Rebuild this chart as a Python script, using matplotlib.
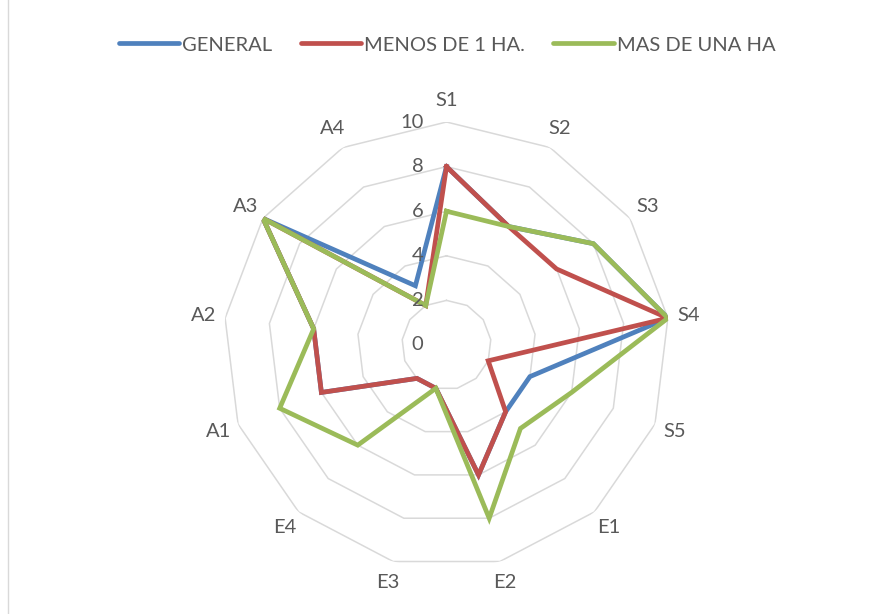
import numpy as np
import matplotlib
matplotlib.use("Agg")
import matplotlib.pyplot as plt
from matplotlib.lines import Line2D
from matplotlib.transforms import offset_copy

categories = ["S1", "S2", "S3", "S4", "S5", "E1", "E2", "E3", "E4", "A1", "A2", "A3", "A4"]
general = [8, 6, 8, 10, 4, 4, 6, 2, 2, 6, 6, 10, 3]
menos_1ha = [8, 6, 6, 10, 2, 4, 6, 2, 2, 6, 6, 10, 2]
mas_1ha = [6, 6, 8, 10, 6, 5, 8, 2, 6, 8, 6, 10, 2]
series_names = ["GENERAL", "MENOS DE 1 HA.", "MAS DE UNA HA"]
rings = [2, 4, 6, 8, 10]
tick_labels = ["0", "2", "4", "6", "8", "10"]
tick_values = [0, 2, 4, 6, 8, 10]

colors = ["#4F81BD", "#C0504D", "#9BBB59"]
text_color = "#595959"
grid_color = "#D9D9D9"

plt.rcParams['font.family'] = ['Lato', 'DejaVu Sans']
FS = 14.5

W, H = 875, 614
fig = plt.figure(figsize=(W / 100, H / 100), dpi=100)

cx, cy, R = 446.5, 345.0, 223.0
ax = fig.add_axes([(cx - R) / W, (H - cy - R) / H, 2 * R / W, 2 * R / H], projection='polar')
ax.set_theta_offset(np.pi / 2)
ax.set_theta_direction(-1)
ax.set_ylim(0, 10)
ax.grid(False)
ax.set_xticks([])
ax.set_yticks([])
ax.spines['polar'].set_visible(False)
ax.patch.set_alpha(0)

n = len(categories)
angles = np.linspace(0, 2 * np.pi, n, endpoint=False)
closed = np.concatenate([angles, angles[:1]])

for r in rings:
    ax.plot(closed, [r] * (n + 1), color=grid_color, lw=1.1, zorder=1)

for vals, col in zip([general, menos_1ha, mas_1ha], colors):
    v = list(vals) + [vals[0]]
    ax.plot(closed, v, color=col, lw=3.4, zorder=3, solid_joinstyle='miter')

for a, lab in zip(angles, categories):
    ax.text(a, 10.95, lab, ha='center', va='center', fontsize=FS, color=text_color)

tr = offset_copy(ax.transData, fig=fig, x=-23, y=0, units='dots')
for tv, tl in zip(tick_values, tick_labels):
    ax.text(0, tv, tl, transform=tr, ha='right', va='center', fontsize=FS, color=text_color)

handles = [Line2D([0], [0], color=c, lw=3.4, solid_capstyle='round') for c in colors]
fig.legend(handles, series_names, loc='center', bbox_to_anchor=(0.511, 1 - 45 / H), ncol=3,
           frameon=False, fontsize=FS, handlelength=3.0, handletextpad=0.15,
           columnspacing=1.4, labelcolor=text_color)

fig.add_artist(Line2D([8 / W, 8 / W], [0, 1], color=grid_color, lw=1.0))

fig.savefig("out.png", dpi=100, facecolor="white")
